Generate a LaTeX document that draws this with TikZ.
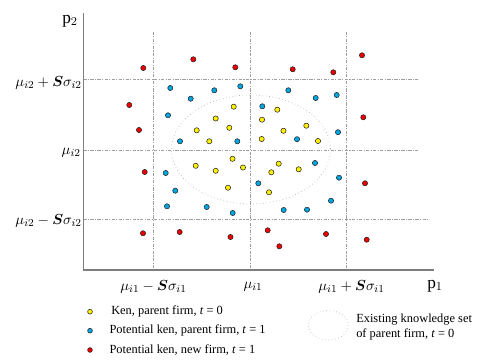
\documentclass[tikz,border=0pt]{standalone}
\usepackage{amsmath}
\usepackage{bm}
\usepackage{fontspec}
\setmainfont{Liberation Serif}
\usepackage{xcolor}
\usepackage{tikz}
\definecolor{kenyellow}{RGB}{255,242,0}
\definecolor{kenblue}{RGB}{0,166,226}
\definecolor{kenred}{RGB}{238,0,0}
\definecolor{axisgray}{RGB}{125,125,125}
\tikzset{
  griddash/.style={draw=gray!75,line width=0.45pt,dash pattern=on 2.5pt off 1pt on 0.8pt off 1pt},
  kendot/.style={draw=black!85,line width=0.4pt},
  axislabel/.style={font=\fontsize{11}{13}\selectfont,inner sep=0pt},
  legendtext/.style={font=\fontsize{9.3}{11}\selectfont,inner sep=0pt,anchor=west},
}

\begin{document}
\begin{tikzpicture}[x=0.75pt,y=-0.75pt]
        \useasboundingbox (0,0) rectangle (491,363);
        % grid of mean and spread
        \foreach \x in {153.3,250.7,346.7}
          \draw[griddash] (\x,31.7) -- (\x,270);
        \foreach \y in {79.3,150.3}
          \draw[griddash] (83.3,\y) -- (418.3,\y);
        \draw[griddash] (83.3,219.3) -- (427.7,219.3);
        % existing knowledge set
        \draw[gray!60,line width=0.5pt,dotted] (251,149.5) ellipse (79.5 and 54.5);
        % axes
        \draw[axisgray,line width=1pt] (83.3,13) -- (83.3,270) -- (434,270);
        \foreach \x/\y in {215.7/118.5,233.7/106.7,229.3/127.8,196.7/130.3,262/119.7,277.3/109.7,283.5/130.8,306.3/125.7,261.7/139,318/141,209.3/141.3,232.5/158.8,243/167.5,195.7/165.8,215.7/170.8,278.7/163.7,271.3/172.3,298.7/169.3,228/187.7,269/192.3}
          \filldraw[kendot,fill=kenyellow] (\x,\y) circle (2.6);
        \foreach \x/\y in {170.3/88,214.3/90.3,190.7/98.7,168/115.3,240.3/86.3,288.3/90.3,315.7/98,336.7/95,262.3/106.3,338/132.2,297/139.2,237.3/141.3,180/141.3,165.7/173,175.3/190.7,167/206.3,206.7/207,232.7/213,258.3/183.3,315/163,339/177.7,331/200.7,283.7/210,307/209.7}
          \filldraw[kendot,fill=kenblue] (\x,\y) circle (2.6);
        \foreach \x/\y in {143.3/68,193.3/59.3,235.3/67.3,292.7/69.3,333.3/72.3,362/55.3,129.3/105,139/130,363.3/117.3,144.7/172,365/183.3,143/233.3,179.7/232,230.5/237,267.7/230.3,279.3/246.3,326/234,366.7/239.7}
          \filldraw[kendot,fill=kenred] (\x,\y) circle (2.6);
        % axis labels
        \node[axislabel,font=\fontsize{13}{15}\selectfont] (ptwo) at (70,21) {p$_2$};
        \node[axislabel,font=\fontsize{13}{15}\selectfont] (pone) at (435,286) {p$_1$};
        \node[axislabel,anchor=east] (muhigh) at (82,83) {$\mu_{i2}+\bm{S}\sigma_{i2}$};
        \node[axislabel,anchor=east] (mumid) at (81,152.5) {$\mu_{i2}$};
        \node[axislabel,anchor=east] (mulow) at (82,221) {$\mu_{i2}-\bm{S}\sigma_{i2}$};
        \node[axislabel] (muleft) at (153.5,287) {$\mu_{i1}-\bm{S}\sigma_{i1}$};
        \node[axislabel] (mucent) at (253,287) {$\mu_{i1}$};
        \node[axislabel] (muright) at (351.5,287) {$\mu_{i1}+\bm{S}\sigma_{i1}$};
        % legend
        \filldraw[kendot,fill=kenyellow] (90,311.7) circle (2.4);
        \filldraw[kendot,fill=kenblue] (90,330.7) circle (2.4);
        \filldraw[kendot,fill=kenred] (90,350) circle (2.4);
        \node[legendtext] (legyellow) at (111,311.7) {Ken, parent firm, \textit{t} = 0};
        \node[legendtext] (legblue) at (109.3,330.7) {Potential ken, parent firm, \textit{t} = 1};
        \node[legendtext] (legred) at (109.3,350) {Potential ken, new firm, \textit{t} = 1};
        \draw[gray!60,line width=0.5pt,dotted] (328.3,325.3) ellipse (20 and 14.7);
        \node[legendtext,align=left] (legset) at (356,326.7) {Existing knowledge set\\of parent firm, \textit{t} = 0};
      \end{tikzpicture}
\end{document}
